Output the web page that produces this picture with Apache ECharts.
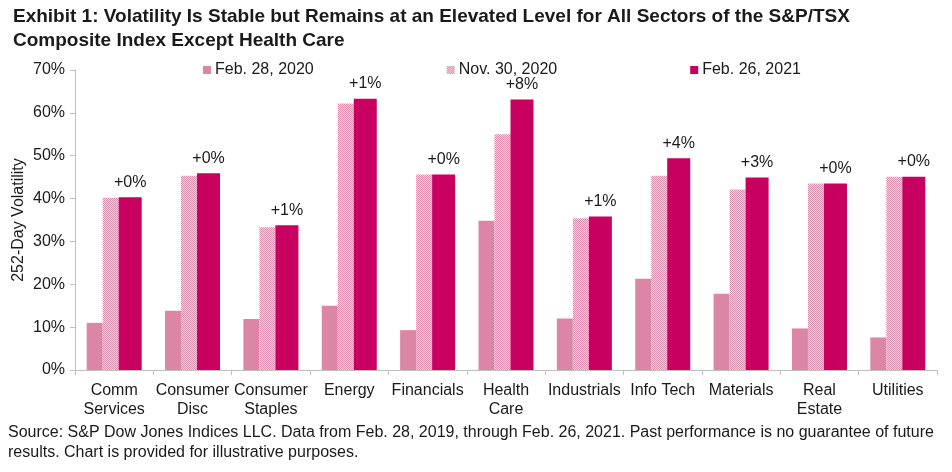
<!DOCTYPE html>
<html>
<head>
<meta charset="utf-8">
<script src="https://cdn.jsdelivr.net/npm/echarts@6/dist/echarts.min.js"></script>
<style>
html,body{margin:0;padding:0;background:#fff;}
#c{width:952px;height:472px;}
</style>
</head>
<body>
<div id="c"></div>
<script>
const categories = ['Comm\nServices','Consumer\nDisc','Consumer\nStaples','Energy','Financials','Health\nCare','Industrials','Info Tech','Materials','Real\nEstate','Utilities'];
const seriesNames = ['Feb. 28, 2020','Nov. 30, 2020','Feb. 26, 2021'];
const feb2020 = [11.0, 13.8, 11.9, 15.0, 9.3, 34.8, 12.0, 21.3, 17.8, 9.7, 7.6];
const nov2020 = [40.2, 45.3, 33.3, 62.2, 45.6, 55.0, 35.4, 45.3, 42.1, 43.5, 45.1];
const feb2021 = [40.3, 45.9, 33.8, 63.3, 45.6, 63.1, 35.8, 49.4, 44.9, 43.5, 45.1];
const changeLabels = ['+0%','+0%','+1%','+1%','+0%','+8%','+1%','+4%','+3%','+0%','+0%'];
const yTicks = [0,10,20,30,40,50,60,70];

const pc = document.createElement('canvas');
pc.width = 2; pc.height = 2;
const g = pc.getContext('2d');
g.fillStyle = '#f6d6e2'; g.fillRect(0,0,2,2);
g.fillStyle = '#dc8cab'; g.fillRect(0,0,1,1); g.fillRect(1,1,1,1);

const font = 'Liberation Sans, Arial, sans-serif';
const chart = echarts.init(document.getElementById('c'));
chart.setOption({
  animation: false,
  textStyle: {fontFamily: font},
  title: {
    text: 'Exhibit 1: Volatility Is Stable but Remains at an Elevated Level for All Sectors of the S&P/TSX\nComposite Index Except Health Care',
    left: 8, top: 0,
    textStyle: {fontSize: 19, fontWeight: 'bold', color: '#1a1a1a', lineHeight: 24, fontFamily: font}
  },
  graphic: [{
    type: 'text', left: 8, top: 423,
    style: {
      text: 'Source: S&P Dow Jones Indices LLC. Data from Feb. 28, 2019, through Feb. 26, 2021. Past performance is no guarantee of future\nresults. Chart is provided for illustrative purposes.',
      font: '16px ' + font, fill: '#1a1a1a', lineHeight: 20
    }
  }],
  legend: {
    data: seriesNames,
    top: 57, left: 198,
    itemWidth: 8, itemHeight: 8, itemGap: 133,
    icon: 'rect',
    textStyle: {fontSize: 16, color: '#1a1a1a', fontFamily: font, padding: [0,0,0,-1]}
  },
  grid: {left: 75, right: 15, top: 70, bottom: 102, outerBoundsMode: 'none', containLabel: false},
  xAxis: {
    type: 'category', data: categories,
    axisLine: {lineStyle: {color: '#bfbfbf'}},
    axisTick: {show: true, length: 5, lineStyle: {color: '#bfbfbf'}},
    axisLabel: {fontSize: 16, color: '#1a1a1a', lineHeight: 19, margin: 11, interval: 0, fontFamily: font}
  },
  yAxis: {
    type: 'value', min: 0, max: 70, interval: 10,
    name: '252-Day Volatility', nameLocation: 'middle', nameGap: 48, nameRotate: 90,
    nameMoveOverlap: false,
    nameTextStyle: {fontSize: 16, color: '#1a1a1a', fontFamily: font},
    axisLine: {show: true, lineStyle: {color: '#bfbfbf'}},
    axisTick: {show: true, length: 5, lineStyle: {color: '#bfbfbf'}},
    splitLine: {show: false},
    axisLabel: {fontSize: 16, color: '#1a1a1a', margin: 10, fontFamily: font,
      formatter: v => yTicks.includes(v) ? v + '%' : ''}
  },
  series: [
    {name: seriesNames[0], type: 'bar', data: feb2020, barWidth: 16, barGap: '0%',
      itemStyle: {color: '#dc86a5'}},
    {name: seriesNames[1], type: 'bar', data: nov2020, barWidth: 16, barGap: '0%',
      itemStyle: {color: {image: pc, repeat: 'repeat'}}},
    {name: seriesNames[2], type: 'bar', data: feb2021, barWidth: 23, barGap: '0%',
      itemStyle: {color: '#c8005f'},
      label: {show: true, position: 'top', distance: 7, fontSize: 16, color: '#1a1a1a', fontFamily: font,
        formatter: p => changeLabels[p.dataIndex]}}
  ]
});
</script>
</body>
</html>
